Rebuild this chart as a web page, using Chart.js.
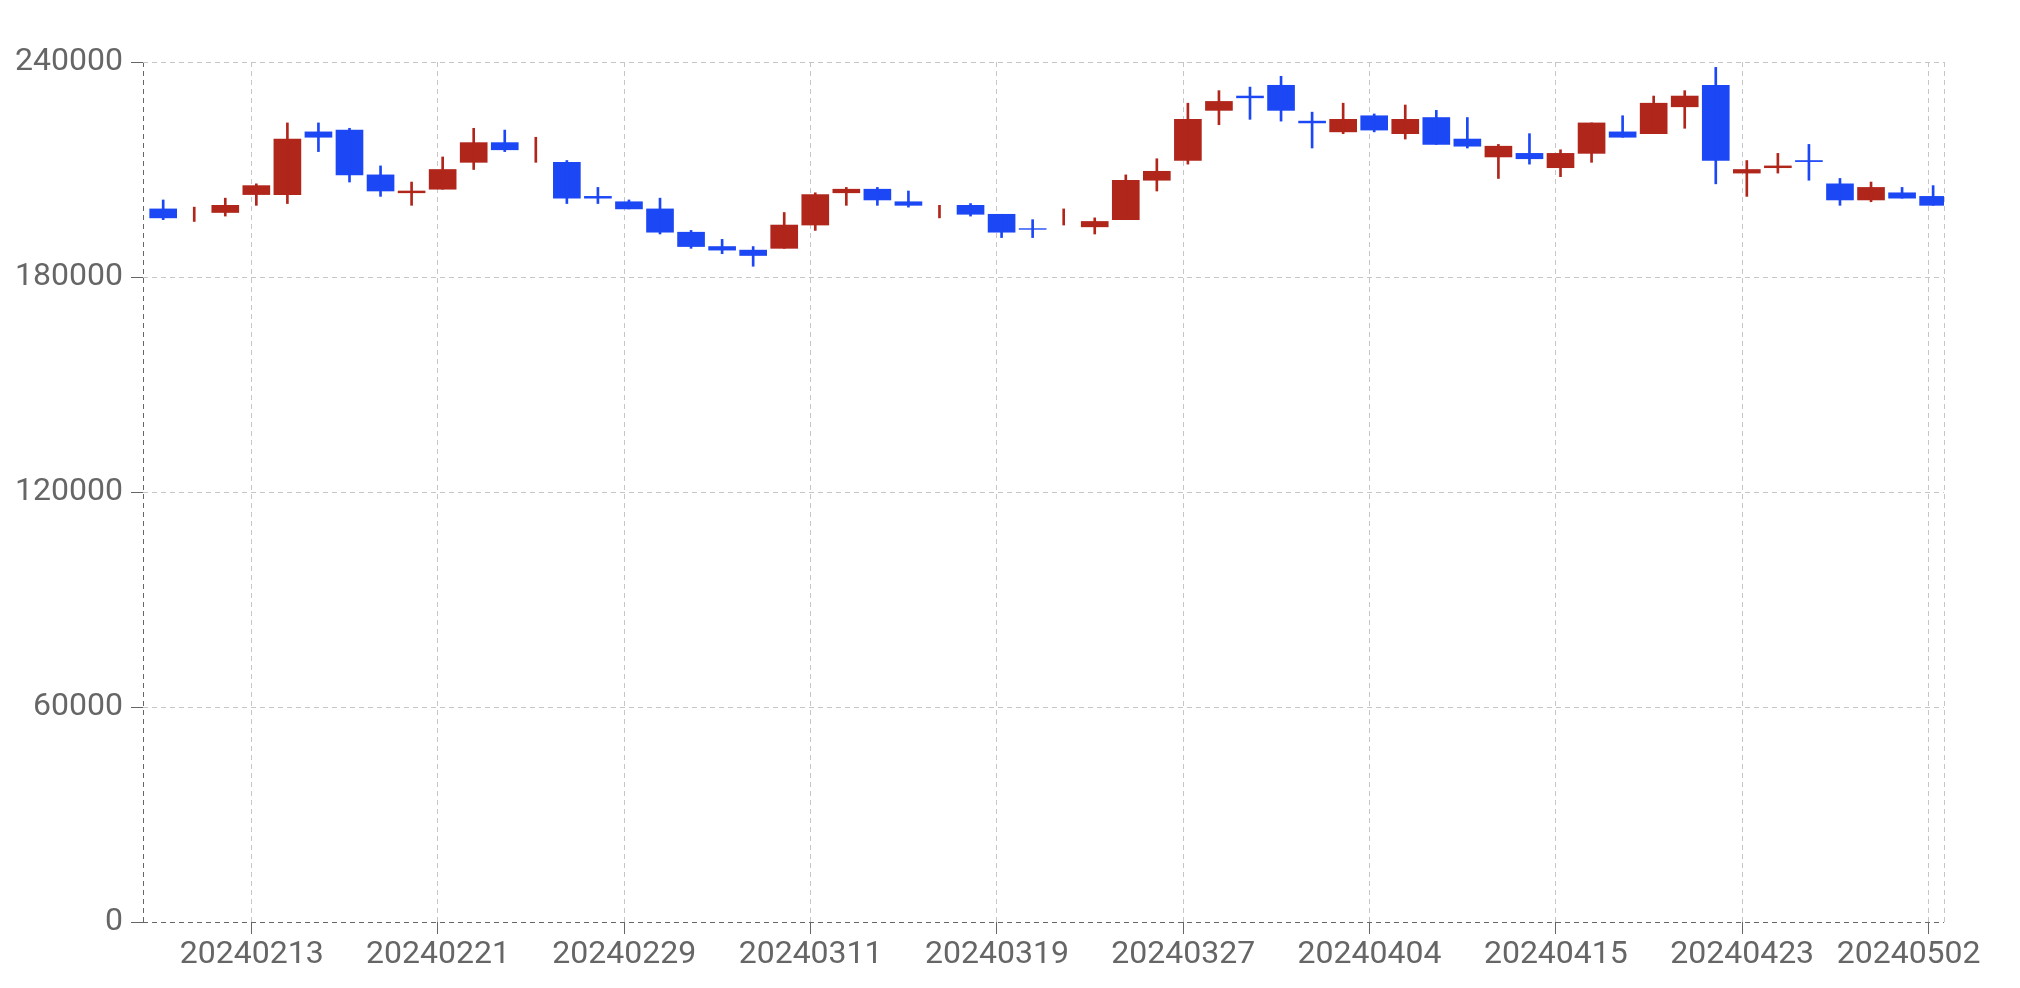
<!DOCTYPE html>
<html>
<head>
<meta charset="utf-8">
<script src="https://cdn.jsdelivr.net/npm/chart.js@4/dist/chart.umd.min.js"></script>
<style>
  html, body { margin: 0; padding: 0; background: #fff; }
  #wrap { width: 2020px; height: 988px; }
</style>
</head>
<body>
<div id="wrap"><canvas id="kline"></canvas></div>
<script>
// --- trading days (categories) ---
const dates = [
  '20240206', '20240207', '20240208', '20240213', '20240214', '20240215', '20240216', '20240219',
  '20240220', '20240221', '20240222', '20240223', '20240226', '20240227', '20240228', '20240229',
  '20240304', '20240305', '20240306', '20240307', '20240308', '20240311', '20240312', '20240313',
  '20240314', '20240315', '20240318', '20240319', '20240320', '20240321', '20240322', '20240325',
  '20240326', '20240327', '20240328', '20240329', '20240401', '20240402', '20240403', '20240404',
  '20240405', '20240408', '20240409', '20240411', '20240412', '20240415', '20240416', '20240417',
  '20240418', '20240419', '20240422', '20240423', '20240424', '20240425', '20240426', '20240429',
  '20240430', '20240502'
];

// --- OHLC series ---
const opens = [
  199000, 197500, 198000, 203000, 203000, 220500, 221000, 208500, 203500, 204500,
  212000, 217500, 216000, 212000, 202500, 201000, 199000, 192500, 188500, 187500,
  188000, 194500, 203500, 204500, 201000, 198500, 200000, 197500, 193500, 197000,
  194000, 196000, 207000, 212500, 226500, 230500, 233500, 223500, 220500, 225000,
  220000, 224500, 218500, 213500, 214500, 210500, 214500, 220500, 220000, 227500,
  233500, 209000, 210500, 212500, 206000, 201500, 203500, 202500
];
const highs = [
  201500, 199500, 202000, 206000, 223000, 223000, 221500, 211000, 206500, 213500,
  221500, 221000, 219000, 212500, 205000, 201500, 202000, 193000, 190500, 188500,
  198000, 203500, 205000, 205000, 204000, 200000, 200500, 197500, 196000, 199000,
  196500, 208500, 213000, 228500, 232000, 233000, 236000, 226000, 228500, 225500,
  228000, 226500, 224500, 217000, 220000, 215500, 223000, 225000, 230500, 232000,
  238500, 212500, 214500, 217000, 207500, 206500, 205000, 205500
];
const lows = [
  196000, 195500, 197000, 200000, 200500, 215000, 206500, 202500, 200000, 204500,
  210000, 215000, 212000, 200500, 200500, 199000, 192000, 188000, 186500, 183000,
  188000, 193000, 200000, 200000, 199500, 196500, 197000, 191000, 191000, 194500,
  192000, 196000, 204000, 211500, 222500, 224000, 223500, 216000, 220000, 220500,
  218500, 217000, 216000, 207500, 211500, 208000, 212000, 219000, 220000, 221500,
  206000, 202500, 209000, 207000, 200000, 201000, 202000, 200000
];
const closes = [
  196500, 197500, 200000, 205500, 218500, 219000, 208500, 204000, 204000, 210000,
  217500, 215500, 216000, 202000, 202000, 199000, 192500, 188500, 187500, 186000,
  194500, 203000, 204500, 201500, 200000, 198500, 197500, 192500, 193300, 197000,
  195500, 207000, 209500, 224000, 229000, 230000, 226500, 223000, 224000, 221000,
  224000, 217000, 216500, 216500, 213000, 214500, 223000, 219000, 228500, 230500,
  212500, 210000, 211000, 212200, 201500, 205000, 202000, 200000
];

// --- axis ticks ---
const xTickLabels = ['20240213', '20240221', '20240229', '20240311', '20240319',
                     '20240327', '20240404', '20240415', '20240423', '20240502'];
const yTicks = [0, 60000, 120000, 180000, 240000];

const UP = '#b0261b';
const DOWN = '#1c47f5';
const AXIS = '#666666';
const GRID = '#c6c6c6';
const SHIFT = 0.15;   // candles sit a little right of their tick in the original

const colors = closes.map((c, i) => c >= opens[i] ? UP : DOWN);
const xEdgeLo = -0.5;
const xEdgeHi = dates.length - 0.5;
const lastIdx = dates.length - 1;
const xTickValues = [xEdgeLo, ...xTickLabels.map(l => dates.indexOf(l)), xEdgeHi];

// flat days (open == close) show only the wick
const bodies = dates.map((d, i) => ({ x: i + SHIFT, y: opens[i] === closes[i] ? null : [opens[i], closes[i]] }));
const wicks = dates.map((d, i) => ({ x: i + SHIFT, y: [lows[i], highs[i]] }));

const isEdge = v => v === xEdgeLo || v === xEdgeHi;
const font = { family: 'Roboto', size: 32 };

function xLabel(v) {
  if (isEdge(v)) return '';
  // last label is nudged left so it stays inside the canvas
  return v === lastIdx ? dates[v] + '     ' : dates[v];
}

new Chart(document.getElementById('kline'), {
  type: 'bar',
  data: {
    datasets: [
      { label: 'wick', data: wicks, backgroundColor: colors, barThickness: 2, grouped: false, borderWidth: 0 },
      { label: 'body', data: bodies, backgroundColor: colors, barThickness: 27, grouped: false, borderWidth: 0 }
    ]
  },
  options: {
    responsive: true,
    maintainAspectRatio: false,
    animation: false,
    layout: { padding: { left: 0, right: 76, top: 62, bottom: 0 } },
    plugins: { legend: { display: false }, tooltip: { enabled: false } },
    scales: {
      x: {
        type: 'linear',
        offset: false,
        min: xEdgeLo,
        max: xEdgeHi,
        afterBuildTicks: axis => { axis.ticks = xTickValues.map(v => ({ value: v })); },
        afterFit: axis => { axis.height = 66; },
        ticks: {
          autoSkip: false,
          maxRotation: 0,
          minRotation: 0,
          padding: 2,
          color: AXIS,
          font: font,
          callback: xLabel
        },
        grid: {
          offset: false,
          color: ctx => ctx.tick && ctx.tick.value === xEdgeLo ? AXIS : GRID,
          tickColor: ctx => ctx.tick && isEdge(ctx.tick.value) ? 'rgba(0,0,0,0)' : AXIS,
          tickLength: 12,
          lineWidth: 1
        },
        border: { display: false, dash: [5, 4] }
      },
      y: {
        min: 0,
        max: 240000,
        afterBuildTicks: axis => { axis.ticks = yTicks.map(v => ({ value: v })); },
        afterFit: axis => { axis.width = 143; },
        ticks: { padding: 8, color: AXIS, font: font, callback: v => String(v) },
        grid: {
          color: ctx => ctx.tick && ctx.tick.value === 0 ? AXIS : GRID,
          tickColor: AXIS,
          tickLength: 12,
          lineWidth: 1
        },
        border: { display: false, dash: [5, 4] }
      }
    }
  }
});
</script>
</body>
</html>
